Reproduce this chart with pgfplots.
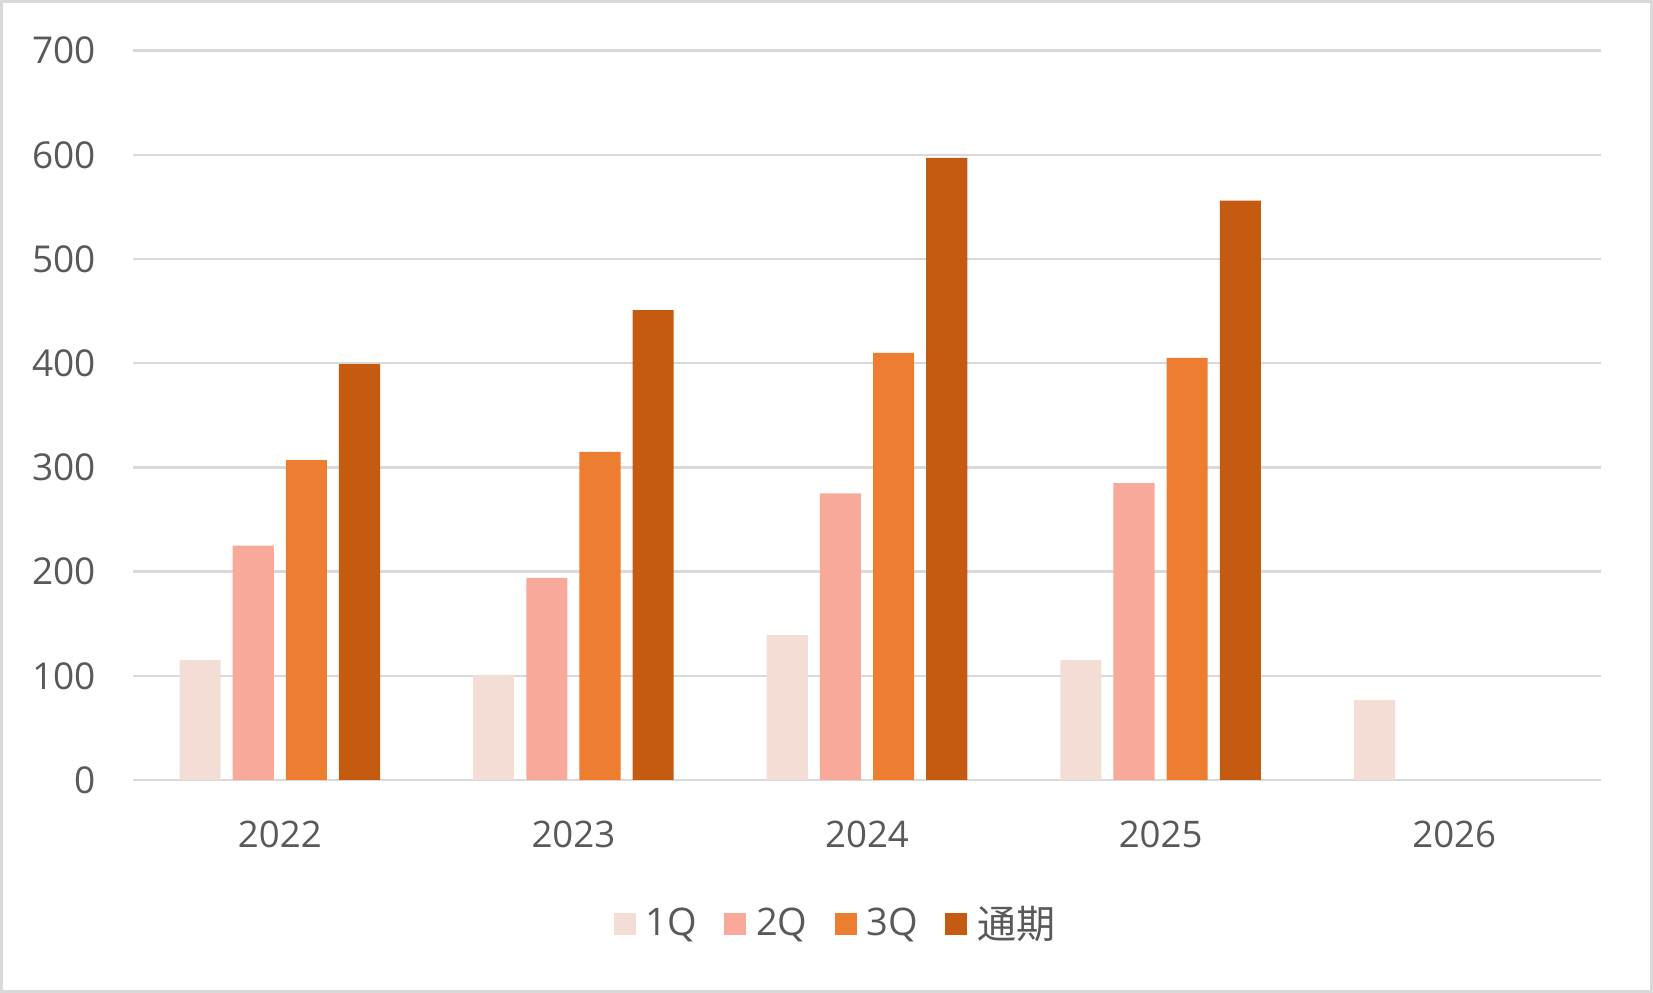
\documentclass[border=0pt]{standalone}
\usepackage{pgfplots}
\pgfplotsset{compat=1.18}
\usepackage{fontspec}
\setmainfont{Open Sans}
\newfontfamily\cjk{Noto Sans CJK JP}
\definecolor{txt}{HTML}{595959}
\definecolor{gridc}{HTML}{D9D9D9}
\definecolor{cA}{HTML}{F4DDD5}
\definecolor{cB}{HTML}{F8A99A}
\definecolor{cC}{HTML}{ED7D31}
\definecolor{cD}{HTML}{C55A11}
\begin{document}
\begin{tikzpicture}
\useasboundingbox (0,0) rectangle (826.5bp,496.5bp);
\draw[gridc, line width=1.5bp] (0.75bp,0.75bp) rectangle (825.75bp,495.75bp);
\begin{axis}[
  at={(66.5bp,106.5bp)}, anchor=south west,
  scale only axis, width=734bp, height=364.7bp,
  xmin=-0.5, xmax=4.5, ymin=0, ymax=700,
  ytick={0,100,...,700},
  xtick={0,1,2,3,4},
  xticklabels={2022,2023,2024,2025,2026},
  axis line style={draw=none},
  tick style={draw=none},
  ymajorgrids=true, xmajorgrids=false,
  grid style={draw=gridc, line width=1.2bp},
  ticklabel style={text=txt},
  yticklabel style={font=\fontsize{18.5bp}{21bp}\selectfont, xshift=-15bp},
  xticklabel style={font=\fontsize{18.3bp}{21bp}\selectfont, yshift=-12.5bp},
  /pgf/number format/assume math mode=true,
  ybar, bar width=0.14,
  legend columns=4,
  legend style={at={(0.4792,-0.197)}, anchor=center, draw=none, fill=none,
    font=\fontsize{19bp}{22bp}\selectfont, text=txt,
    /tikz/every odd column/.append style={column sep=3bp},
    /tikz/every even column/.append style={column sep=11.6bp}},
  legend image code/.code={\fill[#1] (0bp,-5.5bp) rectangle (11bp,5.5bp);},
]
\addplot[fill=cA, draw=none, bar shift=-0.2715] coordinates {(0,115) (1,101) (2,139) (3,115) (4,77)};
\addplot[fill=cB, draw=none, bar shift=-0.0905] coordinates {(0,225) (1,194) (2,275) (3,285)};
\addplot[fill=cC, draw=none, bar shift=0.0905] coordinates {(0,307) (1,315) (2,410) (3,405)};
\addplot[fill=cD, draw=none, bar shift=0.2715] coordinates {(0,399) (1,451) (2,597) (3,556)};
\legend{1Q,2Q,3Q,{\cjk\fontsize{19.5bp}{22bp}\selectfont 通期}}
\end{axis}
\end{tikzpicture}
\end{document}
